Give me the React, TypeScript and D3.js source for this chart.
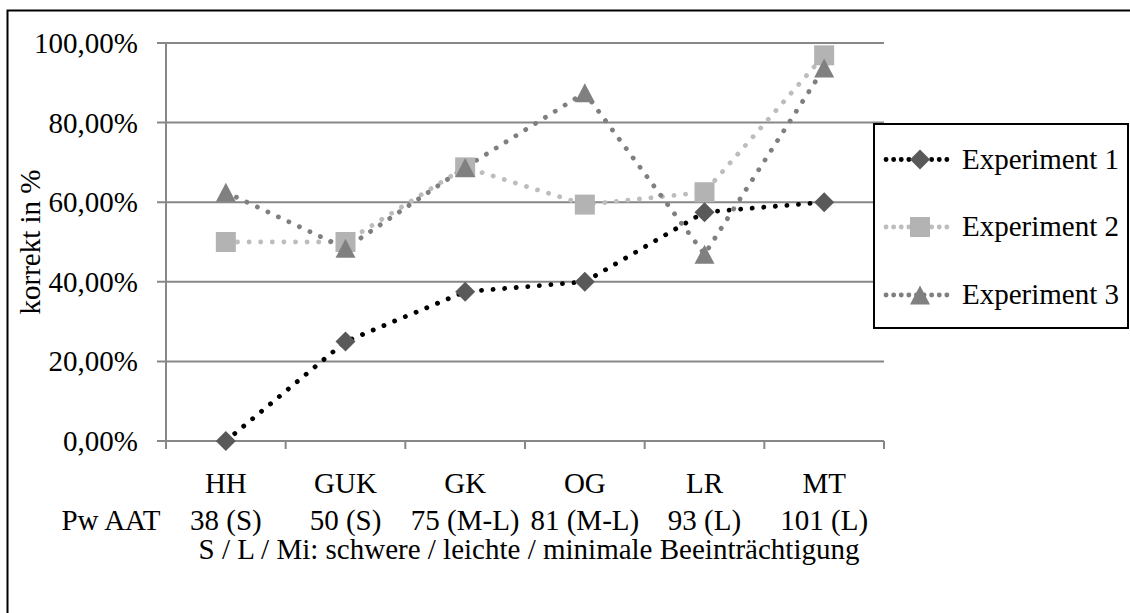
import React from "react";
import * as d3 from "d3";

const categories = ["HH", "GUK", "GK", "OG", "LR", "MT"];
const pwAat = ["38 (S)", "50 (S)", "75 (M-L)", "81 (M-L)", "93 (L)", "101 (L)"];
const yTicks = [0, 0.2, 0.4, 0.6, 0.8, 1.0];
const exp1 = [0, 0.25, 0.375, 0.4, 0.575, 0.6];
const exp2 = [0.5, 0.5, 0.6875, 0.594, 0.625, 0.969];
const exp3 = [0.625, 0.484, 0.6875, 0.875, 0.469, 0.9375];
const seriesNames = ["Experiment 1", "Experiment 2", "Experiment 3"];

const FONT = "'Liberation Serif', 'DejaVu Serif', 'Noto Serif', 'Times New Roman', Times, 'Nimbus Roman', 'Nimbus Roman No9 L', FreeSerif, Tinos, Georgia, serif";
const FS = 29;

const series = [
  { name: seriesNames[0], values: exp1, line: "#000000", marker: "#595959", shape: "diamond" },
  { name: seriesNames[1], values: exp2, line: "#bdbdbd", marker: "#b3b3b3", shape: "square" },
  { name: seriesNames[2], values: exp3, line: "#7f7f7f", marker: "#808080", shape: "triangle" },
];

function Marker({ shape, cx, cy, fill }: { shape: string; cx: number; cy: number; fill: string }) {
  if (shape === "diamond") {
    const r = 10;
    return <path d={`M${cx},${cy - r}L${cx + r},${cy}L${cx},${cy + r}L${cx - r},${cy}Z`} fill={fill} />;
  }
  if (shape === "square") {
    const s = 20;
    return <rect x={cx - s / 2} y={cy - s / 2} width={s} height={s} fill={fill} />;
  }
  const w = 20, h = 19;
  return <path d={`M${cx},${cy - h / 2}L${cx + w / 2},${cy + h / 2}L${cx - w / 2},${cy + h / 2}Z`} fill={fill} />;
}

export default function App() {
  const W = 1130, H = 613;
  const left = 166, right = 884, top = 43, bottom = 441;
  const x = d3.scaleBand<string>().domain(categories).range([left, right]);
  const y = d3.scaleLinear().domain([0, 1]).range([bottom, top]);
  const cx = (c: string) => (x(c) as number) + x.bandwidth() / 2;
  const fmt = (v: number) => (v * 100).toFixed(2).replace(".", ",") + "%";
  const line = d3.line<number>().x((_, i) => cx(categories[i])).y((v) => y(v));
  const grid = "#878787";
  const ts = { fontFamily: FONT, fontSize: FS } as React.CSSProperties;

  const legX = 874, legY = 124, legW = 254, legH = 204;
  const legRows = [159.5, 227, 295];

  return (
    <svg width={W} height={H} style={{ position: "absolute", left: 0, top: 0, background: "#fff" }}>
      <rect x={0} y={0} width={W} height={H} fill="#fff" />
      <rect x={7.5} y={10.5} width={1140} height={640} fill="none" stroke="#000" strokeWidth={2} />
      {yTicks.map((t) => (
        <g key={t}>
          <line x1={157} x2={right} y1={y(t)} y2={y(t)} stroke={grid} strokeWidth={2} />
          <text x={138} y={y(t) + 10} textAnchor="end" style={ts} fill="#000">{fmt(t)}</text>
        </g>
      ))}
      <line x1={left} x2={left} y1={top} y2={bottom + 8} stroke={grid} strokeWidth={2} />
      {d3.range(categories.length + 1).map((i) => {
        const xx = left + i * x.step();
        return <line key={i} x1={xx} x2={xx} y1={bottom} y2={bottom + 8} stroke={grid} strokeWidth={2} />;
      })}
      {categories.map((c, i) => (
        <g key={c}>
          <text x={cx(c)} y={493} textAnchor="middle" style={ts}>{c}</text>
          <text x={cx(c)} y={530} textAnchor="middle" style={ts}>{pwAat[i]}</text>
        </g>
      ))}
      <text x={111} y={530} textAnchor="middle" style={ts}>Pw AAT</text>
      <text x={(left + right) / 2 + 4} y={559} textAnchor="middle" style={ts}>
        S / L / Mi: schwere / leichte / minimale Beeinträchtigung
      </text>
      <text transform={`translate(40,${(top + bottom) / 2}) rotate(-90)`} textAnchor="middle" style={ts}>
        korrekt in %
      </text>
      {series.map((s) => (
        <path key={s.name} d={line(s.values) || ""} fill="none" stroke={s.line} strokeWidth={4.8}
          strokeLinecap="round" strokeDasharray="0.1 11.5" />
      ))}
      {series.map((s) => (
        <g key={s.name + "m"}>
          {s.values.map((v, i) => (
            <Marker key={i} shape={s.shape} cx={cx(categories[i])} cy={y(v)} fill={s.marker} />
          ))}
        </g>
      ))}
      <rect x={legX} y={legY} width={legW} height={legH} fill="#fff" stroke="#000" strokeWidth={2} />
      {series.map((s, i) => (
        <g key={s.name + "l"}>
          <line x1={886} x2={947} y1={legRows[i]} y2={legRows[i]} stroke={s.line} strokeWidth={4.8}
            strokeLinecap="round" strokeDasharray="0.1 7.5" />
          <Marker shape={s.shape} cx={920} cy={legRows[i]} fill={s.marker} />
          <text x={962} y={legRows[i] + 9} style={ts}>{s.name}</text>
        </g>
      ))}
    </svg>
  );
}
